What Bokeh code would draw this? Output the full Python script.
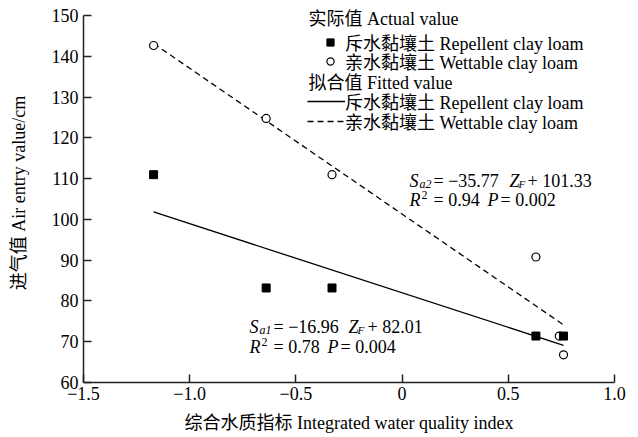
from bokeh.plotting import figure
from bokeh.models import Range1d, Legend, LegendItem, FixedTicker, Label
from bokeh.embed import file_html
from bokeh.resources import INLINE

SERIF = "Liberation Serif, Noto Sans CJK SC"

# ---- data ----
rep_x = [-1.17, -0.64, -0.33, 0.63, 0.76]
rep_y = [111.0, 83.2, 83.2, 71.4, 71.4]
wet_x = [-1.17, -0.64, -0.33, 0.63, 0.74, 0.76]
wet_y = [142.7, 124.8, 111.0, 90.8, 71.4, 66.8]
rep_slope, rep_intercept, rep_r2, rep_p = -16.96, 82.01, 0.78, 0.004
wet_slope, wet_intercept, wet_r2, wet_p = -35.77, 101.33, 0.94, 0.002
x_ticks = [-1.5, -1.0, -0.5, 0.0, 0.5, 1.0]
x_tick_labels = ["−1.5", "−1.0", "−0.5", "0", "0.5", "1.0"]
y_ticks = [60, 70, 80, 90, 100, 110, 120, 130, 140, 150]
x_label = "综合水质指标 Integrated water quality index"
y_label = "进气值 Air entry value/cm"
rep_name = "斥水黏壤土 Repellent clay loam"
wet_name = "亲水黏壤土 Wettable clay loam"
hdr_actual = "实际值 Actual value"
hdr_fitted = "拟合值 Fitted value"

FL, FB = 83, 382  # frame left / bottom in canvas px
Y_TOP = 153.0     # range end a little above the axis end so header text is not clipped
px_per_unit = (FB - 15) / (150 - 60)
top_border = int(round(15 - (Y_TOP - 150) * px_per_unit))

p = figure(width=638, height=437, x_range=Range1d(-1.5, 1.0), y_range=Range1d(60, Y_TOP),
           output_backend="svg", toolbar_location=None,
           min_border_left=FL, min_border_right=24, min_border_top=top_border,
           min_border_bottom=437 - FB)
p.outline_line_color = None
p.grid.visible = False
p.background_fill_color = "white"
p.border_fill_color = "white"

p.xaxis.ticker = FixedTicker(ticks=x_ticks)
p.xaxis.major_label_overrides = {t: l for t, l in zip(x_ticks, x_tick_labels)}
p.yaxis.ticker = FixedTicker(ticks=y_ticks)
p.yaxis.bounds = (60, 150)
p.xaxis.axis_label = x_label
p.yaxis.axis_label = y_label

for ax in (p.xaxis[0], p.yaxis[0]):
    ax.major_tick_in = 8
    ax.major_tick_out = 0
    ax.minor_tick_line_color = None
    ax.axis_line_color = "#222222"
    ax.axis_line_width = 1.5
    ax.major_tick_line_color = "#222222"
    ax.major_tick_line_width = 1.5
    ax.major_label_text_font = SERIF
    ax.major_label_text_font_size = "18px"
    ax.major_label_text_color = "black"
    ax.axis_label_text_font = SERIF
    ax.axis_label_text_font_size = "18px"
    ax.axis_label_text_font_style = "normal"
    ax.axis_label_text_color = "black"
p.xaxis.major_label_standoff = 4
p.xaxis.axis_label_standoff = 10
p.yaxis.major_label_standoff = 5
p.yaxis.axis_label_standoff = 20

# fitted lines from the regression equations over the data range
fx_r = [min(rep_x), max(rep_x)]
fy_r = [rep_slope * v + rep_intercept for v in fx_r]
fx_w = [min(wet_x), max(wet_x)]
fy_w = [wet_slope * v + wet_intercept for v in fx_w]

r_rfit = p.line(fx_r, fy_r, line_color="black", line_width=1.3)
r_wfit = p.line(fx_w, fy_w, line_color="black", line_width=1.3, line_dash="6 4")
r_wet = p.scatter(wet_x, wet_y, marker="circle", size=8, fill_color="white",
                  line_color="black", line_width=1.2)
r_rep = p.scatter(rep_x, rep_y, marker="square", size=8, fill_color="black", line_color="black")


def add_legend_item(label, renderer, left, center_y, gw):
    lg = Legend(items=[LegendItem(label=label, renderers=[renderer])],
                location=(left - FL, FB - (center_y + 11.5)))
    lg.border_line_color = None
    lg.background_fill_alpha = 0
    lg.padding = 0
    lg.margin = 0
    lg.spacing = 0
    lg.label_standoff = 0
    lg.glyph_width = gw
    lg.glyph_height = 18
    lg.label_height = 18
    lg.label_text_font = SERIF
    lg.label_text_font_size = "18px"
    lg.label_text_color = "black"
    p.add_layout(lg)


add_legend_item(rep_name, r_rep, 315, 43.5, 30)
add_legend_item(wet_name, r_wet, 315, 62.0, 30)
add_legend_item(rep_name, r_rfit, 307, 102.0, 38)
add_legend_item(wet_name, r_wfit, 307, 122.0, 38)


def lab(X, Y, text, size=18, style="normal", baseline="alphabetic"):
    p.add_layout(Label(x=X - FL, y=FB - Y, x_units="screen", y_units="screen", text=text,
                       text_font=SERIF, text_font_size=f"{size}px", text_font_style=style,
                       text_baseline=baseline, text_align="left", text_color="black"))


lab(308, 18, hdr_actual, baseline="middle")
lab(308, 82.5, hdr_fitted, baseline="middle")

# wettable equation
lab(409, 180, "S", style="italic")
lab(419, 183, "a2", size=12, style="italic")
lab(433, 180, f"= −{abs(wet_slope):.2f}")
lab(509, 180, "Z", style="italic")
lab(518, 183, "F", size=11, style="italic")
lab(527, 180, f"+ {wet_intercept:.2f}")
lab(409, 199, "R", style="italic")
lab(421, 194, "2", size=12)
lab(433, 199, f"= {wet_r2:.2f}")
lab(487, 199, "P", style="italic")
lab(500, 199, f"= {wet_p:.3f}")

# repellent equation
lab(249, 326, "S", style="italic")
lab(259, 329, "a1", size=12, style="italic")
lab(273, 326, f"= −{abs(rep_slope):.2f}")
lab(348, 326, "Z", style="italic")
lab(357, 329, "F", size=11, style="italic")
lab(367, 326, f"+ {rep_intercept:.2f}")
lab(249, 346, "R", style="italic")
lab(261, 341, "2", size=12)
lab(273, 346, f"= {rep_r2:.2f}")
lab(327, 346, "P", style="italic")
lab(340, 346, f"= {rep_p:.3f}")

open("out.html", "w").write(file_html(p, INLINE))
